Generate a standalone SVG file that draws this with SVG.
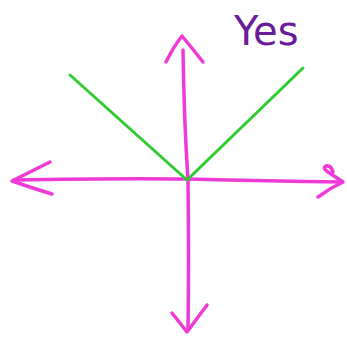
<svg xmlns="http://www.w3.org/2000/svg" width="347" height="342" viewBox="0 0 347 342">
<style>
.ax{fill:none;stroke:#f03ad8;stroke-width:3.5;stroke-linecap:round;stroke-linejoin:round}
.g{fill:none;stroke:#2ecc2e;stroke-width:3;stroke-linecap:round;stroke-linejoin:round}
.t{font-family:"DejaVu Sans",sans-serif;fill:#6a1b9a}
</style>
<rect width="347" height="342" fill="#ffffff"/>
<g id="axes">
<path class="ax" d="M183 50 Q184 120 188 180 Q189 260 188 330"/>
<path class="ax" d="M166 62 Q174 46 182 36 Q192 48 203 62"/>
<path class="ax" d="M172 313 L187 332 L207 305"/>
<path class="ax" d="M14 180 Q120 178 188 179 Q270 181 342 182"/>
<path class="ax" d="M50 162 Q30 172 12 181 Q32 188 52 194"/>
<path class="ax" d="M318 197 Q330 188 343 182 Q334 176 328 172 Q322 168 326 166 Q331 165 333 172"/>
</g>
<g id="absolute">
<path class="g" d="M70 75 L187 180 L303 68"/>
</g>
<text class="t" x="234" y="45" font-size="40">Yes</text>
</svg>
